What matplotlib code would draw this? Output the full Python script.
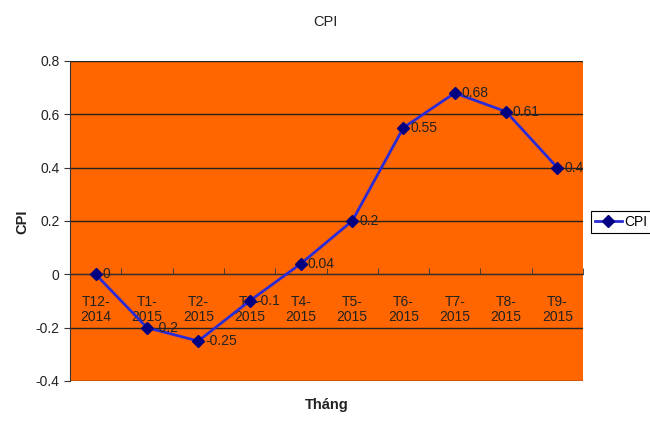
import numpy as np
import matplotlib.pyplot as plt

plt.rcParams['font.family'] = ['Liberation Sans', 'DejaVu Sans']

# data
months = ['T12-\n2014', 'T1-\n2015', 'T2-\n2015', 'T3-\n2015', 'T4-\n2015',
          'T5-\n2015', 'T6-\n2015', 'T7-\n2015', 'T8-\n2015', 'T9-\n2015']
cpi = [0, -0.2, -0.25, -0.1, 0.04, 0.2, 0.55, 0.68, 0.61, 0.4]
labels = ['0', '-0.2', '-0.25', '-0.1', '0.04', '0.2', '0.55', '0.68', '0.61', '0.4']

fig = plt.figure(figsize=(6.5, 4.3), dpi=100)
ax = fig.add_axes([70 / 650, 1 - 381 / 430, 513 / 650, 320 / 430])
ax.set_facecolor('#FF6600')

x = np.arange(len(months))
line, = ax.plot(x, cpi, color='#2B2BD6', lw=2, marker='D', markersize=6.5,
                markerfacecolor='#000080', markeredgecolor='#000080', label='CPI', zorder=3)

for xi, yi, t in zip(x, cpi, labels):
    ax.annotate(t, (xi, yi), xytext=(5, 0), textcoords='offset points',
                va='center', ha='left', fontsize=10, color='#222222')

ax.set_xlim(-0.5, len(months) - 0.5)
ax.set_ylim(-0.4, 0.8)
ax.set_yticks(np.arange(-0.4, 0.81, 0.2))
ax.set_yticklabels(['-0.4', '-0.2', '0', '0.2', '0.4', '0.6', '0.8'], fontsize=10, color='#222222')
ax.yaxis.grid(True, color='#222222', lw=1)
ax.set_axisbelow(True)

# category axis crossing at zero
ax.spines['bottom'].set_position(('data', 0))
ax.spines['bottom'].set_color('#333333')
ax.spines['top'].set_visible(False)
ax.spines['right'].set_visible(False)
ax.spines['left'].set_color('#333333')
ax.set_xticks(x)
ax.set_xticklabels(months, fontsize=10, color='#222222', linespacing=1.1)
ax.tick_params(axis='x', which='major', length=0, pad=15)
ax.set_xticks(np.arange(-0.5, len(months), 1), minor=True)
ax.tick_params(axis='x', which='minor', direction='in', length=4, color='#333333')
ax.tick_params(axis='y', direction='out', length=4, color='#333333')

fig.text(325 / 650, 1 - 22 / 430, 'CPI', ha='center', va='center', fontsize=10.5, color='#222222')
fig.text(22 / 650, 1 - 222 / 430, 'CPI', ha='center', va='center', rotation=90,
         fontsize=10.5, fontweight='bold', color='#222222')
fig.text(327 / 650, 1 - 405 / 430, 'Tháng', ha='center', va='center',
         fontsize=10.5, fontweight='bold', color='#222222')

leg = fig.legend(handles=[line], loc='center left', bbox_to_anchor=(591 / 650, 1 - 222 / 430),
                 fontsize=10, fancybox=False, framealpha=1, edgecolor='black',
                 handlelength=1.9, handletextpad=0.2, borderpad=0.3, borderaxespad=0)
leg.get_frame().set_linewidth(0.8)

fig.savefig('out.png', dpi=100)
